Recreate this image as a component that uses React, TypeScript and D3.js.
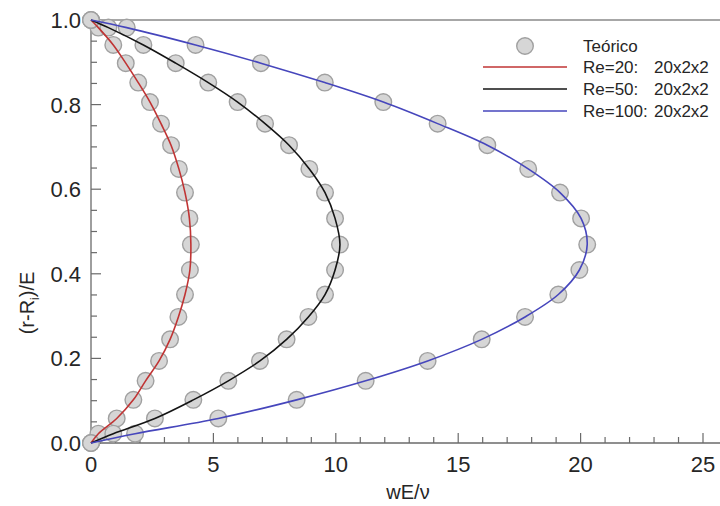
import React from "react";
import * as d3 from "d3";

// Shared y grid of the theoretical points, (r-Ri)/E
const yTeo = [0, 0.022, 0.058, 0.102, 0.147, 0.194, 0.245, 0.298, 0.351, 0.409, 0.469, 0.531, 0.592, 0.648, 0.704, 0.755, 0.806, 0.852, 0.898, 0.941, 0.982, 1.0];
// wE/nu values
const wRe20 = [0, 0.30, 1.05, 1.73, 2.23, 2.78, 3.23, 3.57, 3.84, 4.04, 4.08, 4.02, 3.84, 3.59, 3.27, 2.86, 2.41, 1.93, 1.42, 0.91, 0.30, 0];
const wRe50 = [0, 0.91, 2.61, 4.18, 5.61, 6.90, 7.99, 8.88, 9.56, 9.97, 10.17, 9.97, 9.56, 8.92, 8.09, 7.11, 5.99, 4.79, 3.46, 2.14, 0.71, 0];
const wRe100 = [0, 1.80, 5.20, 8.40, 11.22, 13.75, 15.96, 17.73, 19.09, 19.95, 20.27, 20.02, 19.16, 17.86, 16.19, 14.16, 11.94, 9.55, 6.94, 4.27, 1.46, 0];

const seriesNames = ["Re=20:", "Re=50:", "Re=100:"];
const meshNames = ["20x2x2", "20x2x2", "20x2x2"];
const seriesColors = ["#c03434", "#141414", "#4646bc"];
const seriesValues = [wRe20, wRe50, wRe100];

const xTicks = [0, 5, 10, 15, 20, 25];
const yTicks = [0, 0.2, 0.4, 0.6, 0.8, 1.0];

const W = 720;
const H = 506;
const left = 91;
const right = 703;
const top = 20;
const bottom = 443;

export default function App() {
  const x = d3.scaleLinear().domain([0, 25]).range([left, right]);
  const y = d3.scaleLinear().domain([0, 1]).range([bottom, top]);
  const line = d3
    .line<[number, number]>()
    .x((d) => x(d[0]))
    .y((d) => y(d[1]))
    .curve(d3.curveCatmullRom.alpha(0.5));

  const xMinor = d3.range(0, 26.5, 1).filter((v) => v % 5 !== 0);
  const yMinor = d3.range(0, 1.001, 0.05).filter((v) => Math.abs(v * 5 - Math.round(v * 5)) > 1e-6);

  const axisColor = "#6a6a6a";
  const textColor = "#262626";
  const font = "'Liberation Sans', Arial, sans-serif";

  return (
    <svg
      width={W}
      height={H}
      style={{ position: "absolute", left: 0, top: 0, background: "#fff" }}
      fontFamily={font}
    >
      <rect x={0} y={0} width={W} height={H} fill="#fff" />
      {/* frame */}
      <line x1={left} x2={W} y1={top} y2={top} stroke="#8a8a8a" strokeWidth={1.3} />
      <line x1={left} x2={W} y1={bottom} y2={bottom} stroke={axisColor} strokeWidth={1.3} />
      <line x1={left} x2={left} y1={top} y2={bottom} stroke={axisColor} strokeWidth={1.3} />

      {/* x ticks */}
      {xTicks.map((t) => (
        <g key={"xt" + t}>
          <line x1={x(t)} x2={x(t)} y1={bottom} y2={bottom - 10} stroke={axisColor} strokeWidth={1.2} />
          <text x={x(t)} y={472} textAnchor="middle" fontSize={22} fill={textColor}>
            {t}
          </text>
        </g>
      ))}
      {xMinor.map((t) => (
        <line key={"xm" + t} x1={x(t)} x2={x(t)} y1={bottom} y2={bottom - 6} stroke={axisColor} strokeWidth={1.2} />
      ))}

      {/* y ticks */}
      {yTicks.map((t) => (
        <g key={"yt" + t}>
          <line x1={left} x2={left + 10} y1={y(t)} y2={y(t)} stroke={axisColor} strokeWidth={1.2} />
          <text x={81} y={y(t)} dy="0.36em" textAnchor="end" fontSize={22} fill={textColor}>
            {t.toFixed(1)}
          </text>
        </g>
      ))}
      {yMinor.map((t) => (
        <line key={"ym" + t} x1={left} x2={left + 6} y1={y(t)} y2={y(t)} stroke={axisColor} strokeWidth={1.2} />
      ))}

      {/* axis titles */}
      <text x={408} y={499} textAnchor="middle" fontSize={20} fill={textColor}>
        wE/ν
      </text>
      <text
        transform={`translate(34, 303) rotate(-90)`}
        textAnchor="middle"
        fontSize={20}
        fill={textColor}
      >
        (r-R<tspan fontSize={12} dy={5}>i</tspan>
        <tspan dy={-5}>)/E</tspan>
      </text>

      {/* theoretical markers */}
      {seriesValues.map((vals, si) =>
        vals.map((v, i) => (
          <circle
            key={"c" + si + "-" + i}
            cx={x(v)}
            cy={y(yTeo[i])}
            r={8.3}
            fill="#d6d6d6"
            stroke="#a0a0a0"
            strokeWidth={1.4}
          />
        ))
      )}

      {/* simulation lines */}
      {seriesValues.map((vals, si) => (
        <path
          key={"l" + si}
          d={line(vals.map((v, i) => [v, yTeo[i]] as [number, number])) || ""}
          fill="none"
          stroke={seriesColors[si]}
          strokeWidth={1.6}
        />
      ))}

      {/* legend */}
      <circle cx={525} cy={46} r={8.3} fill="#d6d6d6" stroke="#a0a0a0" strokeWidth={1.4} />
      <text x={583} y={46} dy="0.36em" fontSize={17} fill={textColor}>
        Teórico
      </text>
      {seriesNames.map((name, i) => {
        const cy = 67 + i * 22;
        return (
          <g key={"lg" + i}>
            <line x1={483} x2={567} y1={cy} y2={cy} stroke={seriesColors[i]} strokeWidth={1.6} />
            <text x={583} y={cy} dy="0.36em" fontSize={17} fill={textColor}>
              {name}
            </text>
            <text x={654} y={cy} dy="0.36em" fontSize={17} fill={textColor}>
              {meshNames[i]}
            </text>
          </g>
        );
      })}
    </svg>
  );
}
